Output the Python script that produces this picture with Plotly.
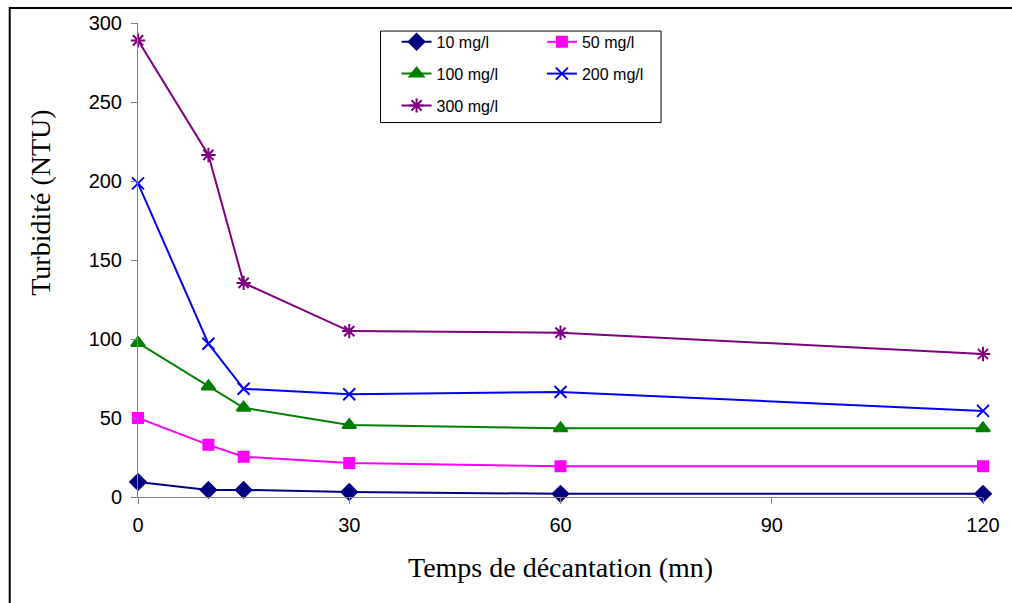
import plotly.graph_objects as go

temps = [0, 10, 15, 30, 60, 120]
c10 = [9.5, 4.5, 4.5, 3.2, 2.0, 2.0]
c50 = [50, 33, 25.5, 21.5, 19.5, 19.5]
c100 = [97.5, 70, 56.5, 45.5, 43.5, 43.5]
c200 = [198.5, 97, 68.5, 65, 66.5, 54.5]
c300 = [289, 216.5, 135.5, 105, 104, 90.5]

x_ticks = [0, 30, 60, 90, 120]
y_ticks = [0, 50, 100, 150, 200, 250, 300]

series = [
    ("10 mg/l", c10, "#000080", "diamond", 12, "legend"),
    ("50 mg/l", c50, "#FF00FF", "square", 10, "legend2"),
    ("100 mg/l", c100, "#008000", "triangle-up", 12, "legend"),
    ("200 mg/l", c200, "#0000FF", "x-thin-open", 12, "legend2"),
    ("300 mg/l", c300, "#800080", "asterisk-open", 12, "legend"),
]

fig = go.Figure()
for i, (name, vals, col, sym, sz, leg) in enumerate(series):
    fig.add_trace(go.Scatter(
        x=temps, y=vals, name=name, mode="lines+markers",
        line=dict(color=col, width=2),
        marker=dict(symbol=sym, size=sz, color=col, line=dict(color=col, width=2)),
        legend=leg, legendgroup="g%d" % i, cliponaxis=False,
    ))

leg_common = dict(
    bgcolor="rgba(0,0,0,0)", borderwidth=0,
    font=dict(family="Liberation Sans, Arial", size=16, color="black"),
    orientation="v", xanchor="left", yanchor="top", tracegroupgap=8,
    itemsizing="trace",
)

fig.update_layout(
    width=1012, height=603,
    margin=dict(l=138, r=22, t=21, b=106),
    paper_bgcolor="white", plot_bgcolor="white",
    showlegend=True,
    legend=dict(x=0.306, y=0.996, **leg_common),
    legend2=dict(x=0.478, y=0.996, **leg_common),
    xaxis=dict(
        range=[0, 120], tickvals=x_ticks, ticktext=[str(v) for v in x_ticks],
        showgrid=False, zeroline=False, showline=True, linecolor="#808080", linewidth=1,
        ticks="outside", ticklen=6, tickcolor="#808080", ticklabelstandoff=4,
        tickfont=dict(family="Liberation Sans, Arial", size=20, color="black"),
    ),
    yaxis=dict(
        range=[0, 300], tickvals=y_ticks, ticktext=[str(v) for v in y_ticks],
        showgrid=False, zeroline=False, showline=True, linecolor="#808080", linewidth=1,
        ticks="outside", ticklen=6, tickcolor="#808080", ticklabelstandoff=5,
        tickfont=dict(family="Liberation Sans, Arial", size=20, color="black"),
    ),
    font=dict(family="Liberation Sans, Arial", color="black"),
)

# outer chart frame
fig.add_shape(type="rect", xref="paper", yref="paper",
              x0=-0.1518, x1=1.2, y0=-0.4, y1=1.0315,
              line=dict(color="black", width=2), fillcolor="rgba(0,0,0,0)", layer="below")
# legend box
fig.add_shape(type="rect", xref="paper", yref="paper",
              x0=0.287, x1=0.619, y0=0.790, y1=0.983,
              line=dict(color="black", width=1), fillcolor="white", layer="above")

fig.add_annotation(text="Temps de décantation (mn)", xref="paper", yref="paper",
                   x=(563 - 138) / 850, y=(497 - 568) / 476, showarrow=False,
                   xanchor="center", yanchor="middle",
                   font=dict(family="Liberation Serif, Times New Roman", size=28, color="black"))
fig.add_annotation(text="Turbidité (NTU)", xref="paper", yref="paper",
                   x=(40 - 138) / 850, y=(497 - 202) / 476, showarrow=False,
                   textangle=-90, xanchor="center", yanchor="middle",
                   font=dict(family="Liberation Serif, Times New Roman", size=28, color="black"))

fig.write_html("out.html")
